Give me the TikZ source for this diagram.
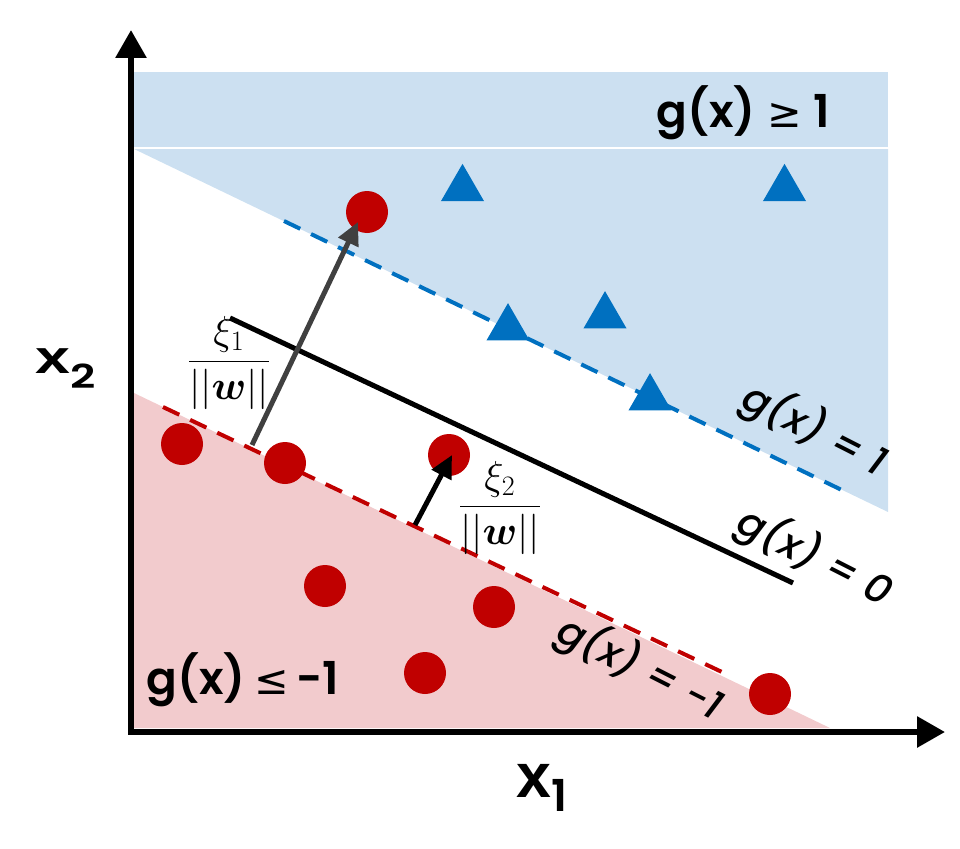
\documentclass[tikz,border=0pt]{standalone}
\usepackage{amsmath,bm}
\usepackage{graphicx}
\usepackage{fontspec}
\setmainfont{Poppins}[BoldFont={Poppins SemiBold},BoldItalicFont={Poppins Medium Italic}]
\newfontfamily\arialfont{Liberation Sans}
\newfontfamily\symfont{DejaVu Sans}
\usetikzlibrary{arrows.meta,shapes.geometric}
\definecolor{bluefill}{HTML}{CCE0F1}
\definecolor{redfill}{HTML}{F2CBCD}
\definecolor{dotred}{HTML}{C00000}
\definecolor{triblue}{HTML}{0070C0}
\definecolor{arrgray}{HTML}{404040}
\tikzset{
  axis/.style={line width=4.5pt, {Triangle[length=21pt,width=22.5pt]}-{Triangle[length=21pt,width=22.5pt]}},
  bluedash/.style={line width=3pt, triblue, dash pattern=on 13.5pt off 9pt},
  reddash/.style={line width=3pt, dotred, dash pattern=on 13.5pt off 9pt},
  zeroline/.style={line width=3.8pt, black},
  dot/.style={circle, fill=dotred, inner sep=0pt, minimum size=31.5pt},
  tri/.style={regular polygon, regular polygon sides=3, fill=triblue, inner sep=0pt, minimum size=37.3pt},
  region/.style={font=\fontsize{34}{38}\selectfont\bfseries},
  linelabel/.style={font=\fontsize{30}{32}\selectfont\bfseries\itshape, rotate=-27},
  fraclabel/.style={font=\fontsize{24}{26}\selectfont},
  slackarrow/.style={line width=3.75pt, -{Triangle[length=17pt,width=16pt]}},
}
\begin{document}
\begin{tikzpicture}[x=0.75pt,y=-0.75pt]
\useasboundingbox (0,0) rectangle (960,849);
% regions
\fill[bluefill] (134,72) rectangle (888,147);
\fill[bluefill] (134,149) -- (888,149) -- (888,512) -- cycle;
\fill[redfill] (134,393) -- (830,728) -- (134,728) -- cycle;
% margin lines
\coordinate (b1) at (284,221);
\coordinate (b2) at (848,493);
\draw[bluedash] (b1) -- (b2);
\coordinate (r1) at (163,407);
\coordinate (r2) at (724,673);
\draw[reddash] (r1) -- (r2);
\coordinate (z1) at (230,318);
\coordinate (z2) at (793,583);
\draw[zeroline] (z1) -- (z2);
% triangles
\node[tri] (t1) at (462.5,188.7) {};
\node[tri] (t2) at (784.5,188.7) {};
\node[tri] (t3) at (508,328) {};
\node[tri] (t4) at (605,316) {};
\node[tri] (t5) at (650,398) {};
% circles
\node[dot] (c1) at (367,212) {};
\node[dot] (c2) at (182,444) {};
\node[dot] (c3) at (285,463) {};
\node[dot] (c4) at (449,455) {};
\node[dot] (c5) at (325,586) {};
\node[dot] (c6) at (494,607) {};
\node[dot] (c7) at (425,673) {};
\node[dot] (c8) at (770,694) {};
% slack arrows
\coordinate (s1) at (252,445);
\coordinate (e1) at (358,222);
\draw[slackarrow, arrgray] (s1) -- (e1);
\coordinate (s2) at (415,525);
\coordinate (e2) at (452,455);
\draw[slackarrow, black] (s2) -- (e2);
% axes
\coordinate (ytip) at (131,30);
\coordinate (xtip) at (945,732);
\draw[axis] (ytip) |- (xtip);
% labels
\node[region] (lab1) at (743,113) {g(x)\hspace{0.25em}{\symfont\fontsize{31}{36}\selectfont\mdseries ≥}\hspace{0.25em}1};
\node[region] (lab2) at (243,680) {g(x)\hspace{0.2em}{\symfont\fontsize{31}{36}\selectfont\mdseries ≤}\hspace{0.15em}-1};
\node[linelabel] (l1) at (815,430) {g(x) = 1};
\node[linelabel] (l0) at (815,557) {g(x) = 0};
\node[linelabel] (lm1) at (640,668) {g(x) = -1};
\node[fraclabel] (f1) at (229,363) {\scalebox{1.22}{$\displaystyle\frac{\xi_1}{||\bm{w}||}$}};
\node[fraclabel] (f2) at (500,508) {\scalebox{1.22}{$\displaystyle\frac{\xi_2}{||\bm{w}||}$}};
% axis labels
\node[anchor=base west, inner sep=0pt] (xl1) at (516,797) {\arialfont\bfseries\fontsize{47}{50}\selectfont x\raisebox{-11pt}{\normalfont\bfseries\fontsize{33}{36}\selectfont 1}};
\node[anchor=base west, inner sep=0pt] (xl2) at (35,373) {\scalebox{1}[0.75]{\arialfont\bfseries\fontsize{47}{50}\selectfont x\raisebox{-15pt}{\normalfont\bfseries\fontsize{33}{36}\selectfont 2}}};
\end{tikzpicture}
\end{document}
